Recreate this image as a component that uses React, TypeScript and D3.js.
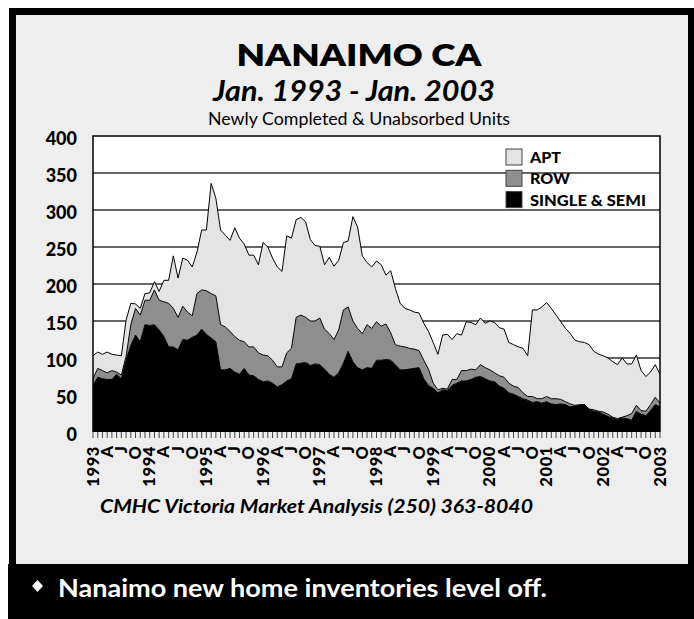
import React, { useEffect, useRef } from 'react';
import * as d3 from 'd3';

// Monthly values, Jan 1993 .. Jan 2003 (121 months)
const singleSemi = [
  63, 74, 72, 71, 71, 78, 72, 97, 117, 131, 122, 145, 144, 145, 138, 129, 115, 115, 111, 125,
  124, 128, 131, 139, 132, 127, 122, 84, 84, 86, 81, 78, 86, 77, 76, 71, 68, 69, 66, 61,
  64, 69, 72, 92, 93, 94, 90, 92, 91, 85, 78, 74, 80, 93, 109, 95, 87, 84, 87, 86,
  97, 97, 98, 97, 91, 84, 84, 85, 86, 87, 72, 63, 59, 53, 57, 56, 63, 66, 69, 69,
  71, 74, 75, 72, 69, 68, 62, 59, 53, 51, 48, 45, 43, 40, 41, 39, 41, 38, 37, 38,
  37, 34, 35, 36, 37, 30, 28, 27, 24, 21, 19, 17, 19, 18, 16, 28, 24, 22, 29, 37, 34
];

const rowUnits = [
  9, 12, 11, 9, 12, 3, 5, 5, 28, 36, 36, 33, 34, 47, 40, 47, 59, 52, 44, 45,
  38, 29, 56, 53, 59, 60, 62, 61, 58, 50, 48, 46, 36, 38, 39, 36, 36, 34, 31, 27,
  24, 38, 41, 63, 65, 61, 60, 58, 63, 54, 55, 51, 58, 72, 60, 55, 53, 49, 58, 54,
  52, 46, 48, 37, 27, 32, 31, 28, 26, 23, 25, 22, 7, 4, 2, 2, 8, 5, 14, 14,
  14, 10, 16, 15, 15, 12, 14, 15, 13, 11, 12, 8, 5, 8, 4, 6, 7, 7, 8, 6,
  4, 4, 1, 1, 0, 1, 2, 1, 3, 3, 1, 1, 1, 4, 9, 8, 5, 6, 8, 10, 5
];

const aptUnits = [
  31, 22, 22, 28, 22, 23, 26, 49, 29, 6, 9, 9, 10, 11, 12, 29, 31, 71, 53, 65,
  70, 66, 56, 81, 82, 149, 132, 128, 124, 123, 147, 138, 132, 124, 124, 119, 152, 147, 138, 135,
  129, 158, 149, 132, 132, 129, 110, 102, 97, 87, 103, 99, 94, 91, 89, 141, 137, 105, 84, 83,
  82, 83, 66, 84, 76, 58, 52, 52, 50, 51, 50, 51, 55, 48, 72, 74, 54, 62, 48, 66,
  63, 61, 63, 60, 66, 68, 65, 65, 55, 56, 55, 60, 55, 117, 120, 124, 127, 122, 113, 105,
  99, 95, 88, 85, 84, 87, 79, 77, 76, 76, 75, 73, 80, 70, 67, 68, 54, 47, 44, 44, 39
];

const seriesKeys = ['single', 'row', 'apt'];
const legendKeys = ['apt', 'row', 'single'];
const legendLabels = ['APT', 'ROW', 'SINGLE & SEMI'];
const quarterLetters = ['A', 'J', 'O'];
const yTicks = [0, 50, 100, 150, 200, 250, 300, 350, 400];
const startYear = 1993;

const colors: Record<string, string> = { single: '#000000', row: '#8e8e8e', apt: '#e4e4e4' };
const legendWidths = [31, 40, 116];
const font = 'Lato, "Open Sans", sans-serif';

const W = 694;
const H = 619;
const plot = { left: 93, right: 660, top: 136, bottom: 432 };

export default function App() {
  const ref = useRef<SVGSVGElement>(null);

  useEffect(() => {
    if (!ref.current) return;
    const svg = d3.select(ref.current);
    svg.selectAll('*').remove();

    // frame + panel + banner
    svg.append('rect').attr('width', W).attr('height', H).attr('fill', '#fff');
    svg.append('rect').attr('x', 9).attr('y', 8).attr('width', W - 9).attr('height', 556).attr('fill', '#000');
    svg.append('rect').attr('x', 16).attr('y', 15).attr('width', 672).attr('height', 549).attr('fill', '#eeeeee');
    svg.append('rect').attr('x', 8).attr('y', 564).attr('width', W - 8).attr('height', H - 564).attr('fill', '#000');

    // titles
    svg.append('text').attr('x', 359).attr('y', 65.5).attr('text-anchor', 'middle')
      .attr('font-family', font).attr('font-weight', 800).attr('font-size', 31)
      .attr('textLength', 245).attr('lengthAdjust', 'spacingAndGlyphs')
      .text('NANAIMO CA');
    svg.append('text').attr('x', 354).attr('y', 101).attr('text-anchor', 'middle')
      .attr('font-family', font).attr('font-weight', 700).attr('font-style', 'italic').attr('font-size', 29)
      .attr('textLength', 282).attr('lengthAdjust', 'spacingAndGlyphs')
      .text('Jan. 1993 - Jan. 2003');
    svg.append('text').attr('x', 359).attr('y', 125).attr('text-anchor', 'middle')
      .attr('font-family', font).attr('font-size', 18)
      .attr('textLength', 302).attr('lengthAdjust', 'spacingAndGlyphs')
      .text('Newly Completed & Unabsorbed Units');

    const n = singleSemi.length;
    const x = d3.scaleLinear().domain([0, n - 1]).range([plot.left, plot.right]);
    const y = d3.scaleLinear().domain([0, 400]).range([plot.bottom, plot.top]);

    // plot background
    svg.append('rect').attr('x', plot.left).attr('y', plot.top)
      .attr('width', plot.right - plot.left).attr('height', plot.bottom - plot.top)
      .attr('fill', '#fff');

    // gridlines
    svg.append('g').selectAll('line')
      .data(yTicks.filter(t => t > 0 && t < 400))
      .join('line')
      .attr('x1', plot.left).attr('x2', plot.right)
      .attr('y1', d => y(d)).attr('y2', d => y(d))
      .attr('stroke', '#333').attr('stroke-width', 1.3);

    // stacked areas
    const rows = singleSemi.map((s, i) => ({ single: s, row: rowUnits[i], apt: aptUnits[i] }));
    const stacked = d3.stack<any>().keys(seriesKeys)(rows);

    const area = d3.area<any>()
      .x((d, i) => x(i))
      .y0(d => y(d[0]))
      .y1(d => y(d[1]));
    const topLine = d3.line<any>()
      .x((d, i) => x(i))
      .y(d => y(d[1]));

    svg.append('g').selectAll('path')
      .data(stacked)
      .join('path')
      .attr('d', d => area(d))
      .attr('fill', d => colors[d.key]);

    svg.append('g').selectAll('path')
      .data(stacked)
      .join('path')
      .attr('d', d => topLine(d))
      .attr('fill', 'none')
      .attr('stroke', '#000')
      .attr('stroke-width', 1)
      .attr('stroke-linejoin', 'round');

    // plot border
    svg.append('path')
      .attr('d', `M${plot.left},${plot.bottom}V${plot.top}H${plot.right}V${plot.bottom}`)
      .attr('fill', 'none').attr('stroke', '#000').attr('stroke-width', 1.5);

    // month ticks
    svg.append('g').selectAll('line')
      .data(d3.range(n))
      .join('line')
      .attr('x1', d => x(d)).attr('x2', d => x(d))
      .attr('y1', plot.bottom).attr('y2', plot.bottom + 6)
      .attr('stroke', '#333').attr('stroke-width', 0.9);

    // quarter labels
    svg.append('g').selectAll('text')
      .data(d3.range(0, n, 3))
      .join('text')
      .attr('transform', d => `translate(${x(d) - 0.5},446) rotate(-90)`)
      .attr('text-anchor', 'end')
      .attr('dominant-baseline', 'central')
      .attr('font-family', font).attr('font-weight', 900).attr('font-size', 16.5)
      .attr('letter-spacing', d => d % 12 === 0 ? 0.6 : 0)
      .text(d => d % 12 === 0 ? String(startYear + d / 12) : quarterLetters[(d % 12) / 3 - 1]);

    // y labels
    svg.append('g').selectAll('text')
      .data(yTicks)
      .join('text')
      .attr('x', 77).attr('y', d => y(d) + 2)
      .attr('text-anchor', 'end')
      .attr('dominant-baseline', 'central')
      .attr('font-family', font).attr('font-weight', 900).attr('font-size', 18)
      .text(d => d);

    // legend
    const lg = svg.append('g').selectAll('g')
      .data(legendKeys)
      .join('g')
      .attr('transform', (d, i) => `translate(506,${149 + i * 21.3})`);
    lg.append('rect').attr('width', 16).attr('height', 16)
      .attr('fill', d => colors[d]).attr('stroke', '#444').attr('stroke-width', 1);
    lg.append('text').attr('x', 24).attr('y', 14)
      .attr('font-family', font).attr('font-weight', 900).attr('font-size', 15)
      .attr('textLength', (d, i) => legendWidths[i]).attr('lengthAdjust', 'spacingAndGlyphs')
      .text((d, i) => legendLabels[i]);

    // source
    svg.append('text').attr('x', 100).attr('y', 513)
      .attr('font-family', font).attr('font-weight', 700).attr('font-style', 'italic').attr('font-size', 18)
      .attr('textLength', 433).attr('lengthAdjust', 'spacingAndGlyphs')
      .text('CMHC Victoria Market Analysis (250) 363-8040');

    // banner
    svg.append('path').attr('d', 'M37.5,580L43,586L37.5,592L32,586Z').attr('fill', '#fff');
    svg.append('text').attr('x', 58).attr('y', 597)
      .attr('font-family', font).attr('font-weight', 700).attr('font-size', 25)
      .attr('textLength', 489).attr('lengthAdjust', 'spacingAndGlyphs')
      .attr('fill', '#fff')
      .text('Nanaimo new home inventories level off.');
  }, []);

  return (
    <svg ref={ref} width={W} height={H}
      style={{ position: 'absolute', left: 0, top: 0, display: 'block' }} />
  );
}
